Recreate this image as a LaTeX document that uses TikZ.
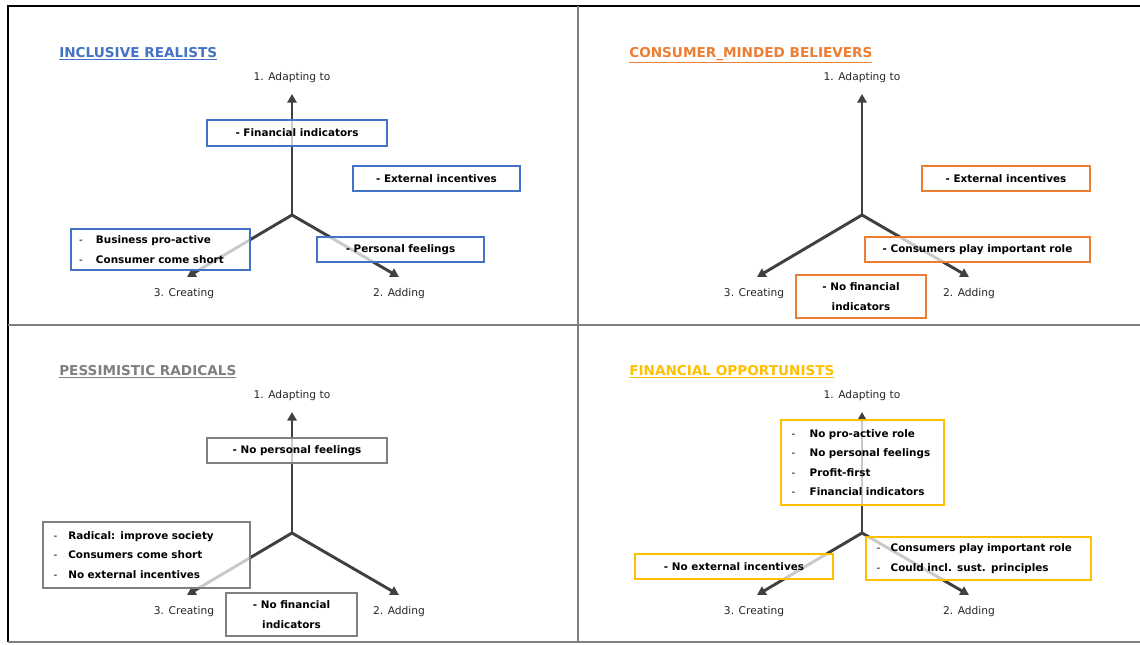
\documentclass[tikz,border=0pt]{standalone}
\usepackage{fontspec}
\setmainfont{DejaVu Sans}
\usetikzlibrary{arrows.meta}
\definecolor{realblue}{HTML}{4472C4}
\definecolor{believeorange}{HTML}{ED7D31}
\definecolor{radicalgray}{HTML}{7F7F7F}
\definecolor{opportyellow}{HTML}{FFC000}
\definecolor{axisgray}{HTML}{404040}
\newcommand{\bul}[1]{\makebox[#1][l]{\mdseries -}}
\begin{document}
\begin{tikzpicture}[
x=0.75pt,y=-0.75pt,
axis/.style={draw=axisgray,line width=2.2pt,-{Triangle[width=7pt,length=6.5pt]}},
box/.style={draw,line width=1.5pt,fill=white,fill opacity=0.72,text opacity=1,text=black,
  font=\fontsize{7.8}{14.5}\selectfont\bfseries,inner sep=0pt,minimum height=19pt},
listbox/.style={box,anchor=west,align=left},
lbl/.style={font=\fontsize{8}{9}\selectfont,text=black!85},
title/.style={anchor=base west,inner sep=0pt,font=\fontsize{10.2}{12}\selectfont\bfseries}
]
\useasboundingbox (0,0) rectangle (1140,644);
% frame
\draw[black,line width=1.1pt] (8,642) -- (8,6) -- (1140,6);
\draw[radicalgray,line width=1.5pt] (577.5,6) -- (577.5,642);
\draw[radicalgray,line width=1.5pt] (8,324.5) -- (1140,324.5);
\draw[radicalgray,line width=1.5pt] (8,642) -- (1140,642);
% axes
\foreach \q/\sx/\sy in {1/0/0,2/570/0,3/0/318,4/570/318}{
  \begin{scope}[shift={(\sx,\sy)}]
    \coordinate (c\q) at (292,215);
    \coordinate (u\q) at (292,94);
    \coordinate (l\q) at (187,277);
    \coordinate (r\q) at (399,277);
    \node[lbl] (a\q) at (292,78) {1. Adapting to};
    \node[lbl] (k\q) at (184,294) {3. Creating};
    \node[lbl] (d\q) at (399,294) {2. Adding};
    \draw[axis] (c\q) -- (u\q);
    \draw[axis] (c\q) -- (l\q);
    \draw[axis] (c\q) -- (r\q);
  \end{scope}
}
% inclusive realists
\begin{scope}
\node[title,text=realblue] (t1) at (59,57) {\underline{INCLUSIVE REALISTS}};
\node[box,draw=realblue,minimum width=135pt] (fin1) at (297,133) {- Financial indicators};
\node[box,draw=realblue,minimum width=125pt] (ext1) at (436.5,178.5) {- External incentives};
\node[listbox,draw=realblue,text width=122pt,inner xsep=6pt,minimum height=31pt] (bus1) at (70,249.5)
  {\bul{12.75pt}Business pro-active\\ \bul{12.75pt}Consumer come short};
\node[box,draw=realblue,minimum width=125pt] (per1) at (400.5,249.5) {- Personal feelings};
\end{scope}
% consumer minded believers
\begin{scope}[shift={(570,0)}]
\node[title,text=believeorange] (t2) at (59,57) {\underline{CONSUMER\_MINDED BELIEVERS}};
\node[box,draw=believeorange,minimum width=126pt] (ext2) at (436,178.5) {- External incentives};
\node[box,draw=believeorange,minimum width=169pt] (con2) at (407.5,249.5) {- Consumers play important role};
\node[box,draw=believeorange,minimum width=97.5pt,minimum height=32pt,align=center] (fin2) at (291,296.5)
  {- No financial\\indicators};
\end{scope}
% pessimistic radicals
\begin{scope}[shift={(0,318)}]
\node[title,text=radicalgray] (t3) at (59,57) {\underline{PESSIMISTIC RADICALS}};
\node[box,draw=radicalgray,minimum width=135pt] (per3) at (297,132.5) {- No personal feelings};
\node[listbox,draw=radicalgray,text width=139pt,inner xsep=8pt,minimum height=49.5pt] (rad3) at (42,237)
  {\bul{11pt}Radical: improve society\\ \bul{11pt}Consumers come short\\ \bul{11pt}No external incentives};
\node[box,draw=radicalgray,minimum width=98pt,minimum height=32pt,align=center] (fin3) at (291.5,296.5)
  {- No financial\\indicators};
\end{scope}
% financial opportunists
\begin{scope}[shift={(570,318)}]
\node[title,text=opportyellow] (t4) at (59,57) {\underline{FINANCIAL OPPORTUNISTS}};
\node[listbox,draw=opportyellow,text width=106pt,inner xsep=8pt,minimum height=64pt] (pro4) at (210,144.5)
  {\bul{13.5pt}No pro-active role\\ \bul{13.5pt}No personal feelings\\ \bul{13.5pt}Profit-first\\ \bul{13.5pt}Financial indicators};
\node[box,draw=opportyellow,minimum width=148.5pt] (ext4) at (164,248.5) {- No external incentives};
\node[listbox,draw=opportyellow,text width=153pt,inner xsep=8pt,minimum height=32pt] (con4) at (295,240.5)
  {\bul{10.5pt}Consumers play important role\\ \bul{10.5pt}Could incl. sust. principles};
\end{scope}
\end{tikzpicture}
\end{document}
